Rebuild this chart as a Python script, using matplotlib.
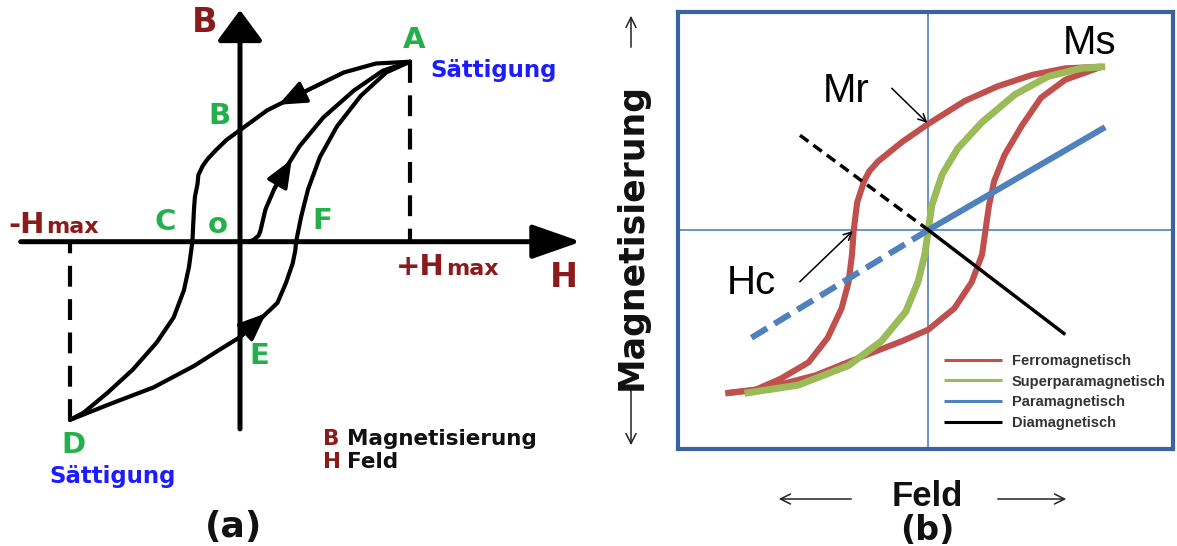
import matplotlib
matplotlib.use("Agg")
import matplotlib.pyplot as plt

W_PX, H_PX = 1177, 546

# ---- panel (a): B-H hysteresis loop (H in units of Hmax, B in units of saturation)
loop_down_h = [1.0, 0.80, 0.61, 0.35, 0.16, 0.0, -0.08, -0.14, -0.19, -0.22, -0.245, -0.25,
               -0.265, -0.27, -0.275, -0.28, -0.29, -0.30, -0.33, -0.39, -0.49, -0.63,
               -0.78, -0.92, -1.0]
loop_down_b = [1.0, 0.99, 0.94, 0.82, 0.73, 0.62, 0.565, 0.51, 0.46, 0.42, 0.37, 0.32,
               0.25, 0.19, 0.10, 0.0, -0.07, -0.14, -0.27, -0.42, -0.56, -0.71,
               -0.84, -0.95, -0.99]
loop_up_h = [-1.0, -0.76, -0.51, -0.27, -0.12, 0.0, 0.12, 0.22, 0.27, 0.31, 0.325, 0.33,
             0.345, 0.36, 0.40, 0.47, 0.57, 0.71, 0.86, 1.0]
loop_up_b = [-0.99, -0.90, -0.81, -0.69, -0.60, -0.53, -0.43, -0.34, -0.23, -0.12, -0.05, 0.0,
             0.07, 0.14, 0.29, 0.47, 0.64, 0.81, 0.94, 1.0]
virgin_h = [0.0, 0.05, 0.08, 0.11, 0.12, 0.135, 0.15, 0.20, 0.25, 0.35, 0.49, 0.67, 0.84, 1.0]
virgin_b = [0.0, 0.0, 0.01, 0.035, 0.06, 0.12, 0.18, 0.29, 0.38, 0.53, 0.69, 0.84, 0.95, 1.0]

# ---- panel (b): magnetisation curves (field / magnetisation, normalised)
ferro_down_f = [1.0, 0.79, 0.60, 0.40, 0.21, 0.0, -0.15, -0.29, -0.34, -0.37, -0.41, -0.43,
                -0.44, -0.46, -0.50, -0.58, -0.69, -0.85, -1.0, -1.17]
ferro_down_m = [1.0, 0.99, 0.95, 0.88, 0.79, 0.65, 0.54, 0.42, 0.36, 0.30, 0.17, 0.0,
                -0.15, -0.32, -0.48, -0.66, -0.81, -0.91, -0.98, -1.0]
ferro_up_f = [-1.17, -0.94, -0.65, -0.37, -0.15, 0.0, 0.15, 0.25, 0.31, 0.33, 0.35,
              0.38, 0.44, 0.54, 0.65, 0.79, 1.0]
ferro_up_m = [-1.0, -0.97, -0.89, -0.77, -0.68, -0.61, -0.48, -0.32, -0.15, 0.0, 0.15,
              0.30, 0.46, 0.64, 0.81, 0.92, 1.0]
super_f = [-1.06, -0.75, -0.46, -0.27, -0.13, -0.06, -0.02, 0.0, 0.02, 0.08, 0.17,
           0.31, 0.50, 0.69, 0.88, 1.02]
super_m = [-1.0, -0.95, -0.83, -0.68, -0.50, -0.32, -0.15, 0.0, 0.15, 0.34, 0.50,
           0.66, 0.83, 0.94, 0.99, 1.0]
para_f = [-1.02, 0.0, 1.02]
para_m = [-0.66, 0.0, 0.63]
dia_f = [-0.74, 0.0, 0.79]
dia_m = [0.58, 0.0, -0.64]
legend_labels = ["Ferromagnetisch", "Superparamagnetisch", "Paramagnetisch", "Diamagnetisch"]

DARK_RED = "#8b1a1a"
LETTER_GREEN = "#23b04a"
SAT_BLUE = "#1c1cff"
RED = "#c0504d"
GREEN = "#9bbb59"
BLUE = "#4f81bd"
BORDER = "#3a64a0"
BOLD = dict(family="DejaVu Sans", fontweight="bold")
ARIAL = "Liberation Sans"


def fxy(px, py):
    return px / W_PX, 1 - py / H_PX


def ftext(px, py, s, **kw):
    x, y = fxy(px, py)
    fig.text(x, y, s, **kw)


def farrow(p0, p1, lw=1.1, ms=18):
    fig.add_artist(matplotlib.patches.FancyArrowPatch(
        fxy(*p0), fxy(*p1), transform=fig.transFigure, arrowstyle="->",
        mutation_scale=ms, lw=lw, color="#222222"))


fig = plt.figure(figsize=(W_PX / 100, H_PX / 100), dpi=100)
fig.patch.set_facecolor("white")

# ================= panel (a)
ax_a = fig.add_axes([0, 0, 600 / W_PX, 1])
ax_a.set_xlim(-240 / 170, 360 / 170)
ax_a.set_ylim((241.7 - 546) / 180, 241.7 / 180)
ax_a.axis("off")

ax_a.annotate("", xy=(2.006, 0), xytext=(-1.29, 0),
              arrowprops=dict(arrowstyle="-|>,head_length=3.0,head_width=1.05",
                              lw=3.6, color="k", mutation_scale=10, shrinkA=0, shrinkB=0))
ax_a.annotate("", xy=(0, 1.287), xytext=(0, -1.04),
              arrowprops=dict(arrowstyle="-|>,head_length=1.9,head_width=1.4",
                              lw=3.6, color="k", mutation_scale=10, shrinkA=0, shrinkB=0))

curve_kw = dict(color="k", lw=3.0, solid_joinstyle="round", solid_capstyle="round")
ax_a.plot(loop_down_h, loop_down_b, **curve_kw)
ax_a.plot(loop_up_h, loop_up_b, **curve_kw)
ax_a.plot(virgin_h, virgin_b, **curve_kw)

# dashed drops from the saturation points to the H axis
for h, b in [(loop_up_h[-1], loop_up_b[-1]), (loop_up_h[0], loop_up_b[0])]:
    ax_a.plot([h, h], [b, 0], color="k", lw=3.0, dashes=(5, 3), solid_capstyle="butt")

# direction arrows along the branches
arrow_kw = dict(arrowstyle="-|>,head_length=1.7,head_width=0.7", lw=2.6, color="k",
                mutation_scale=10, shrinkA=0)
ax_a.annotate("", xy=(loop_down_h[4], loop_down_b[4]), xytext=(loop_down_h[2], loop_down_b[2]),
              arrowprops=dict(shrinkB=9, **arrow_kw))
ax_a.annotate("", xy=(virgin_h[9], virgin_b[9]), xytext=(virgin_h[7], virgin_b[7]),
              arrowprops=dict(shrinkB=11, **arrow_kw))
ax_a.annotate("", xy=(loop_up_h[7], loop_up_b[7]), xytext=(loop_up_h[5], loop_up_b[5]),
              arrowprops=dict(shrinkB=11, **arrow_kw))

ftext(205, 23, "B", color=DARK_RED, fontsize=24, ha="center", va="center", **BOLD)
ftext(564, 287, "H", color=DARK_RED, fontsize=24, ha="center", va="baseline", **BOLD)
ftext(45, 233, "-H", color=DARK_RED, fontsize=21, ha="right", va="baseline", **BOLD)
ftext(46, 233, "max", color=DARK_RED, fontsize=16, ha="left", va="baseline", **BOLD)
ftext(445, 275, "+H", color=DARK_RED, fontsize=21, ha="right", va="baseline", **BOLD)
ftext(446, 275, "max", color=DARK_RED, fontsize=16, ha="left", va="baseline", **BOLD)

for px, py, s in [(414, 40, "A"), (219, 116, "B"), (165, 222, "C"), (218, 225, "o"),
                  (322, 221, "F"), (259, 356, "E"), (73, 445, "D")]:
    ftext(px, py, s, color=LETTER_GREEN, fontsize=21, ha="center", va="center", **BOLD)

ftext(494, 71, "Sättigung", color=SAT_BLUE, fontsize=16.5, ha="center", va="center", **BOLD)
ftext(113, 477, "Sättigung", color=SAT_BLUE, fontsize=16.5, ha="center", va="center", **BOLD)

ftext(323, 445, "B", color=DARK_RED, fontsize=15.5, ha="left", va="baseline", **BOLD)
ftext(347, 445, "Magnetisierung", color="#111111", fontsize=15.5, ha="left", va="baseline", **BOLD)
ftext(323, 468, "H", color=DARK_RED, fontsize=15.5, ha="left", va="baseline", **BOLD)
ftext(347, 468, "Feld", color="#111111", fontsize=15.5, ha="left", va="baseline", **BOLD)

ftext(234, 527, "(a)", color="#111111", fontsize=26, ha="center", va="center", **BOLD)

# ================= panel (b)
left, right, top, bottom = 678, 1173, 12, 449
ax_b = fig.add_axes([left / W_PX, 1 - bottom / H_PX, (right - left) / W_PX, (bottom - top) / H_PX])
cx, cy, ux, uy = 928.3, 230, 173.4, 163.3
ax_b.set_xlim((left - cx) / ux, (right - cx) / ux)
ax_b.set_ylim(-(bottom - cy) / uy, (cy - top) / uy)
ax_b.set_xticks([])
ax_b.set_yticks([])
for sp in ax_b.spines.values():
    sp.set_color(BORDER)
    sp.set_linewidth(3.0)

ax_b.axhline(0, color=BLUE, lw=1.2, zorder=1)
ax_b.axvline(0, color=BLUE, lw=1.2, zorder=1)

line_kw = dict(solid_capstyle="butt", solid_joinstyle="round")
red_line, = ax_b.plot(ferro_down_f, ferro_down_m, color=RED, lw=4.4, zorder=2, **line_kw)
ax_b.plot(ferro_up_f, ferro_up_m, color=RED, lw=4.4, zorder=2, **line_kw)
green_line, = ax_b.plot(super_f, super_m, color=GREEN, lw=5.0, zorder=3, **line_kw)
ax_b.plot(para_f[:2], para_m[:2], color=BLUE, lw=4.4, dashes=(3, 1.4), zorder=4)
blue_line, = ax_b.plot(para_f[1:], para_m[1:], color=BLUE, lw=4.4, zorder=4, **line_kw)
ax_b.plot(dia_f[:2], dia_m[:2], color="k", lw=2.5, dashes=(3, 1.8), zorder=5)
black_line, = ax_b.plot(dia_f[1:], dia_m[1:], color="k", lw=2.5, zorder=5, **line_kw)

mr = ferro_down_m[ferro_down_f.index(0.0)]
hc = ferro_down_f[ferro_down_m.index(0.0)]
note_kw = dict(arrowstyle="->", lw=1.1, color="k", mutation_scale=14, shrinkA=0, shrinkB=1)
ax_b.annotate("", xy=(0, mr), xytext=(-0.211, 0.868), arrowprops=note_kw)
ax_b.annotate("", xy=(hc, 0), xytext=(-0.741, -0.317), arrowprops=note_kw)
ax_b.text(-0.474, 0.851, "Mr", fontsize=29, family=ARIAL, ha="center", va="center")
ax_b.text(-1.02, -0.325, "Hc", fontsize=29, family=ARIAL, ha="center", va="center")
ax_b.text(0.932, 1.145, "Ms", fontsize=29, family=ARIAL, ha="center", va="center")

leg = ax_b.legend([red_line, green_line, blue_line, black_line], legend_labels,
                  loc="upper left", bbox_to_anchor=((944 - left) / (right - left), (bottom - 354) / (bottom - top)),
                  frameon=False, prop=dict(family=ARIAL, weight="bold", size=10.5),
                  handlelength=4.0, handletextpad=0.65, labelspacing=0.45,
                  borderpad=0, borderaxespad=0)
for line in leg.get_lines():
    line.set_linewidth(2.2)
for t in leg.get_texts():
    t.set_color("#333333")

ftext(632, 236, "Magnetisierung", fontsize=25, rotation=90, ha="center", va="center",
      color="#111111", **BOLD)
farrow((631, 50), (631, 13))
farrow((631, 385), (631, 448))
ftext(927, 497, "Feld", fontsize=25, family=ARIAL, fontweight="bold", color="#111111",
      ha="center", va="center")
farrow((854, 499), (776, 499))
farrow((995, 499), (1069, 499))
ftext(927, 530, "(b)", fontsize=24, ha="center", va="center", color="#111111", **BOLD)

fig.savefig("out.png", dpi=100, facecolor="white")
